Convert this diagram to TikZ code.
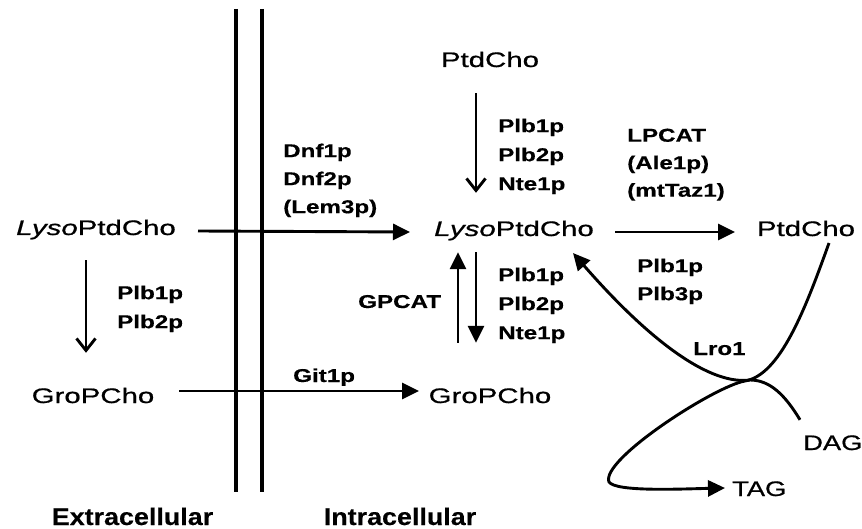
\documentclass[tikz,border=0pt]{standalone}
\usepackage{fontspec}
\setmainfont{Liberation Sans}
\newfontfamily\namefont{Liberation Sans}[FakeStretch=1.4,FakeBold=0.8]
\newfontfamily\labfont{Liberation Sans}[FakeStretch=1.3,FakeBold=0.4]
\newfontfamily\dagfont{Liberation Sans}[FakeStretch=1.3,FakeBold=0.8]
\newfontfamily\locfont{Liberation Sans}[FakeStretch=1.12,FakeBold=0.4]
\usetikzlibrary{arrows.meta}
\tikzset{
  cmp/.style={font=\namefont\fontsize{21}{25}\selectfont, inner sep=0pt, text height=15pt, text depth=4.5pt, anchor=base},
  cmpb/.style={font=\dagfont\fontsize{21}{25}\selectfont, inner sep=0pt, text height=15pt, text depth=4.5pt, anchor=base west},
  lab/.style={font=\labfont\bfseries\fontsize{18.6}{#1}\selectfont, inner sep=0pt, align=left, anchor=north west},
  lab/.default=28.5,
  slab/.style={font=\labfont\bfseries\fontsize{18.6}{22}\selectfont, inner sep=0pt, anchor=base west},
  loc/.style={font=\locfont\bfseries\fontsize{24}{28}\selectfont, inner sep=0pt, anchor=base},
  fa/.style={line width=2.9pt, -{Triangle[length=17pt,width=16pt]}},
  ca/.style={line width=2.9pt, -{Straight Barb[length=12pt,width=19pt,line width=2.9pt]}},
  curve/.style={line width=2.9pt},
  membrane/.style={line width=3.2pt},
}
\begin{document}
\begin{tikzpicture}[x=1pt,y=-1pt]
\useasboundingbox (0,0) rectangle (862,529);

% membrane
\draw[membrane] (236,9) -- (236,492);
\draw[membrane] (262,9) -- (262,492);

% compounds
\node[cmp] (ptdT) at (490,67) {PtdCho};
\node[cmp] (lysoL) at (96,235) {\textit{Lyso}PtdCho};
\node[cmp] (lysoM) at (514,236) {\textit{Lyso}PtdCho};
\node[cmp] (ptdR) at (806,236) {PtdCho};
\node[cmp] (gpcL) at (93,403) {GroPCho};
\node[cmp] (gpcM) at (490,403) {GroPCho};
\node[cmpb] (dag) at (803,450) {DAG};
\node[cmpb] (tag) at (732,496) {TAG};

% enzyme labels
\node[lab=28] (dnf) at (283,143.5) {Dnf1p\\Dnf2p\\(Lem3p)};
\node[lab=29] (plbT) at (498,118.5) {Plb1p\\Plb2p\\Nte1p};
\node[lab=29] (plbB) at (498,267.5) {Plb1p\\Plb2p\\Nte1p};
\node[lab=27.5] (lpcat) at (627,128.5) {LPCAT\\(Ale1p)\\(mtTaz1)};
\node[lab=28] (plbR) at (637,258.5) {Plb1p\\Plb3p};
\node[lab=29] (plbL) at (117,285.5) {Plb1p\\Plb2p};
\node[slab] (gpcat) at (358,308) {GPCAT};
\node[slab] (git) at (293,382) {Git1p};
\node[slab] (lro) at (693,355) {Lro1};

% locations
\node[loc] (extra) at (132.5,525) {Extracellular};
\node[loc] (intra) at (400,525) {Intracellular};

% arrows
\draw[fa] ([xshift=102pt,yshift=-1.25pt]lysoL.center) -- ([xshift=-104pt,yshift=-1.25pt]lysoM.center);
\draw[ca] ([xshift=-14pt,yshift=-21.5pt]ptdT.south) -- ([xshift=-38pt,yshift=28pt]lysoM.north);
\draw[fa] ([xshift=-38pt,yshift=-11.5pt]lysoM.south) -- ([xshift=-14pt,yshift=45pt]gpcM.north);
\draw[fa] ([xshift=-32pt,yshift=45pt]gpcM.north) -- ([xshift=-56pt,yshift=-11.5pt]lysoM.south);
\draw[ca] ([xshift=-10pt,yshift=-20.5pt]lysoL.south) -- ([xshift=-7pt,yshift=35pt]gpcL.north);
\draw[fa] ([xshift=86pt,yshift=6.75pt]gpcL.center) -- ([xshift=-71pt,yshift=6.75pt]gpcM.center);
\draw[fa] ([xshift=101pt,yshift=-1.25pt]lysoM.center) -- ([xshift=-71pt,yshift=-1.25pt]ptdR.center);

% Lro1 curves
\draw[curve, fa] ([xshift=23pt,yshift=-12.25pt]ptdR.center)
  .. controls (805,310) and (780,375) .. (745,381)
  .. controls (715,386) and (600,460) .. (609,482)
  .. controls (616,492) and (680,489) .. ([xshift=-7pt,yshift=2.75pt]tag.west);
\draw[curve, fa] ([xshift=-3pt,yshift=15pt]dag.north west)
  .. controls (785,395) and (770,380) .. (750,380)
  .. controls (705,386) and (640,330) .. ([xshift=59pt,yshift=-22.25pt]lysoM.center);
\end{tikzpicture}
\end{document}
